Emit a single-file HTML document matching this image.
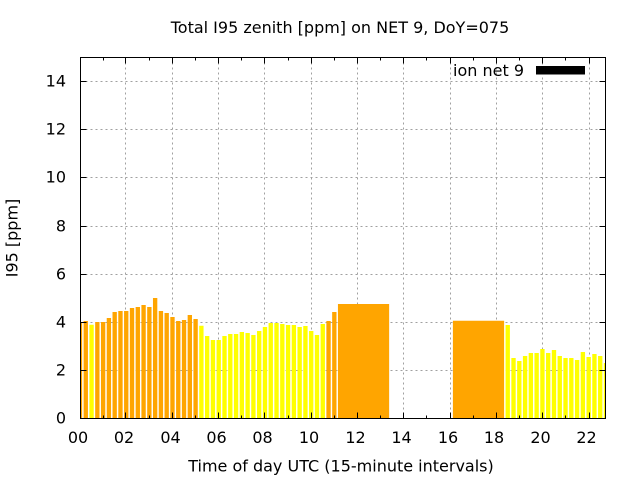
<!DOCTYPE html>
<html><head><meta charset="utf-8"><style>
html,body{margin:0;padding:0;background:#fff;}
svg{display:block;}
text{font-family:"DejaVu Sans","Liberation Sans",sans-serif;font-size:16px;fill:#000;}
</style></head><body>
<svg width="640" height="480" viewBox="0 0 640 480" xmlns="http://www.w3.org/2000/svg">
<rect width="640" height="480" fill="#fff"/>
<defs><clipPath id="pa"><rect x="80.5" y="57.5" width="525" height="361"/></clipPath></defs>
<path stroke="#a0a0a0" stroke-width="1" stroke-dasharray="2,3" fill="none" d="M125.5 57.5V418.5M172.5 57.5V418.5M218.5 57.5V418.5M264.5 57.5V418.5M311.5 57.5V418.5M357.5 57.5V418.5M403.5 57.5V418.5M450.5 57.5V418.5M496.5 57.5V418.5M542.5 57.5V418.5M589.5 57.5V418.5M80.5 81.5H605.5M80.5 129.5H605.5M80.5 177.5H605.5M80.5 226.5H605.5M80.5 274.5H605.5M80.5 322.5H605.5M80.5 370.5H605.5"/>
<g clip-path="url(#pa)">
<path fill="#ffa500" d="M77.83 322h4.34V418.5h-4.34zM83.61 321h4.34V418.5h-4.34zM95.17 322h4.34V418.5h-4.34zM100.95 322h4.34V418.5h-4.34zM106.73 318h4.34V418.5h-4.34zM112.51 312h4.34V418.5h-4.34zM118.29 311h4.34V418.5h-4.34zM124.07 311h4.34V418.5h-4.34zM129.85 308h4.34V418.5h-4.34zM135.63 307h4.34V418.5h-4.34zM141.41 305h4.34V418.5h-4.34zM147.19 307h4.34V418.5h-4.34zM152.97 298h4.34V418.5h-4.34zM158.75 311h4.34V418.5h-4.34zM164.53 313h4.34V418.5h-4.34zM170.31 317h4.34V418.5h-4.34zM176.09 321h4.34V418.5h-4.34zM181.87 320h4.34V418.5h-4.34zM187.65 315h4.34V418.5h-4.34zM193.43 319h4.34V418.5h-4.34zM326.38 321h4.34V418.5h-4.34zM332.16 312h4.34V418.5h-4.34zM337.94 304h51.2V418.5h-51.2zM452.9 320.7h51.22V418.5h-51.22z"/>
<path fill="#ffff00" d="M89.39 324.7h4.34V418.5h-4.34zM199.21 325.7h4.34V418.5h-4.34zM204.99 336h4.34V418.5h-4.34zM210.77 340h4.34V418.5h-4.34zM216.55 340h4.34V418.5h-4.34zM222.34 336h4.34V418.5h-4.34zM228.12 334h4.34V418.5h-4.34zM233.9 334h4.34V418.5h-4.34zM239.68 332h4.34V418.5h-4.34zM245.46 333h4.34V418.5h-4.34zM251.24 335h4.34V418.5h-4.34zM257.02 331h4.34V418.5h-4.34zM262.8 327h4.34V418.5h-4.34zM268.58 323h4.34V418.5h-4.34zM274.36 323h4.34V418.5h-4.34zM280.14 324h4.34V418.5h-4.34zM285.92 325h4.34V418.5h-4.34zM291.7 325h4.34V418.5h-4.34zM297.48 327h4.34V418.5h-4.34zM303.26 326h4.34V418.5h-4.34zM309.04 331h4.34V418.5h-4.34zM314.82 335h4.34V418.5h-4.34zM320.6 324h4.34V418.5h-4.34zM505.56 325h4.34V418.5h-4.34zM511.35 358h4.34V418.5h-4.34zM517.13 361h4.34V418.5h-4.34zM522.91 356h4.34V418.5h-4.34zM528.69 353h4.34V418.5h-4.34zM534.47 353h4.34V418.5h-4.34zM540.25 349h4.34V418.5h-4.34zM546.03 353h4.34V418.5h-4.34zM551.81 350h4.34V418.5h-4.34zM557.59 356h4.34V418.5h-4.34zM563.37 358h4.34V418.5h-4.34zM569.15 358h4.34V418.5h-4.34zM574.93 360h4.34V418.5h-4.34zM580.71 352h4.34V418.5h-4.34zM586.49 357h4.34V418.5h-4.34zM592.27 354h4.34V418.5h-4.34zM598.05 356h4.34V418.5h-4.34zM603.83 363h4.34V418.5h-4.34z"/>
</g>
<rect x="80.5" y="57.5" width="525" height="361" stroke="#000" fill="none"/>
<path stroke="#000" fill="none" d="M80.5 370.5h6M80.5 322.5h6M80.5 274.5h6M80.5 226.5h6M80.5 177.5h6M80.5 129.5h6M80.5 81.5h6M605.5 370.5h-6M605.5 322.5h-6M605.5 274.5h-6M605.5 226.5h-6M605.5 177.5h-6M605.5 129.5h-6M605.5 81.5h-6M125.5 57.5v6M172.5 57.5v6M218.5 57.5v6M264.5 57.5v6M311.5 57.5v6M357.5 57.5v6M403.5 57.5v6M450.5 57.5v6M496.5 57.5v6M542.5 57.5v6M589.5 57.5v6M103.5 57.5v3M149.5 57.5v3M195.5 57.5v3M241.5 57.5v3M288.5 57.5v3M334.5 57.5v3M380.5 57.5v3M426.5 57.5v3M473.5 57.5v3M519.5 57.5v3M565.5 57.5v3M125.5 418.5v-6M172.5 418.5v-6M218.5 418.5v-6M264.5 418.5v-6M311.5 418.5v-6M357.5 418.5v-6M403.5 418.5v-6M450.5 418.5v-6M496.5 418.5v-6M542.5 418.5v-6M589.5 418.5v-6M103.5 418.5v-3M149.5 418.5v-3M195.5 418.5v-3M241.5 418.5v-3M288.5 418.5v-3M334.5 418.5v-3M380.5 418.5v-3M426.5 418.5v-3M473.5 418.5v-3M519.5 418.5v-3M565.5 418.5v-3"/>
<text x="524" y="76" text-anchor="end">ion net 9</text>
<rect x="536" y="66" width="49" height="8.5" fill="#000"/>
<text x="340" y="33" text-anchor="middle">Total I95 zenith [ppm] on NET 9, DoY=075</text>
<text x="66" y="423.5" text-anchor="end">0</text>
<text x="66" y="375.5" text-anchor="end">2</text>
<text x="66" y="327.5" text-anchor="end">4</text>
<text x="66" y="279.5" text-anchor="end">6</text>
<text x="66" y="231.5" text-anchor="end">8</text>
<text x="66" y="182.5" text-anchor="end">10</text>
<text x="66" y="134.5" text-anchor="end">12</text>
<text x="66" y="86.5" text-anchor="end">14</text>
<text x="78" y="443" text-anchor="middle">00</text>
<text x="124" y="443" text-anchor="middle">02</text>
<text x="170.5" y="443" text-anchor="middle">04</text>
<text x="216.5" y="443" text-anchor="middle">06</text>
<text x="262.5" y="443" text-anchor="middle">08</text>
<text x="309" y="443" text-anchor="middle">10</text>
<text x="355.5" y="443" text-anchor="middle">12</text>
<text x="401.5" y="443" text-anchor="middle">14</text>
<text x="448" y="443" text-anchor="middle">16</text>
<text x="494" y="443" text-anchor="middle">18</text>
<text x="540.5" y="443" text-anchor="middle">20</text>
<text x="586.5" y="443" text-anchor="middle">22</text>
<text x="341" y="471.5" text-anchor="middle">Time of day UTC (15-minute intervals)</text>
<text transform="translate(17.5,238) rotate(-90)" text-anchor="middle">I95 [ppm]</text>
</svg>
</body></html>
